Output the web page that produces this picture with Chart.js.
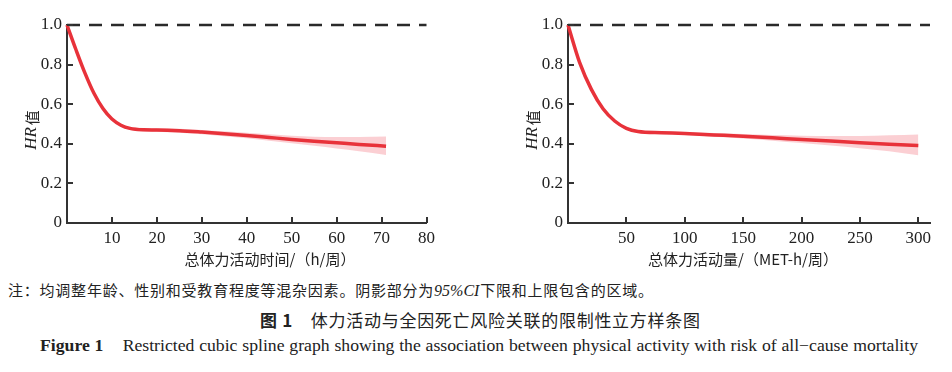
<!DOCTYPE html>
<html>
<head>
<meta charset="utf-8">
<script src="https://cdn.jsdelivr.net/npm/chart.js@4.4.0/dist/chart.umd.min.js"></script>
<style>
  body { margin: 0; background: #fff; width: 952px; height: 372px; overflow: hidden; position: relative; }
  canvas { position: absolute; top: 0; }
  .cap { position: absolute; white-space: nowrap; color: #222; text-align-last: justify; }
  #note { left: 8px; top: 279px; width: 645px; font: 15px "Noto Sans CJK SC"; }
  #note i { font-family: "Liberation Serif"; font-size: 16px; }
  #title { left: 260px; top: 307px; width: 440px; font: 17px "Noto Sans CJK SC"; }
  #title b { font-weight: bold; }
  #fig { left: 40px; top: 335px; width: 878px; font: 17.7px "Liberation Serif"; }
</style>
</head>
<body>
<canvas id="c1" width="440" height="272" style="left:0px"></canvas>
<canvas id="c2" width="440" height="272" style="left:501px"></canvas>
<div class="cap" id="note">注：均调整年龄、性别和受教育程度等混杂因素。阴影部分为<i>95%CI</i>下限和上限包含的区域。</div>
<div class="cap" id="title"><b>图 1</b>　体力活动与全因死亡风险关联的限制性立方样条图</div>
<div class="cap" id="fig"><b>Figure 1</b>&nbsp;&nbsp;&nbsp; Restricted cubic spline graph showing the association between physical activity with risk of all−cause mortality</div>
<script>
// left panel: total activity time (h/week)
const timeX = [0, 2, 4, 6, 8, 10, 12, 14, 17, 20, 25, 30, 35, 40, 45, 50, 55, 60, 65, 71];
const timeHR = [1.0, 0.875, 0.757, 0.655, 0.578, 0.525, 0.494, 0.478, 0.471, 0.470, 0.466, 0.459, 0.451, 0.442, 0.432, 0.422, 0.413, 0.405, 0.397, 0.388];
const timeLow = [1.0, 0.870, 0.751, 0.648, 0.571, 0.518, 0.487, 0.470, 0.462, 0.461, 0.456, 0.448, 0.438, 0.428, 0.416, 0.403, 0.390, 0.376, 0.362, 0.343];
const timeUp = [1.0, 0.880, 0.763, 0.662, 0.585, 0.532, 0.501, 0.486, 0.480, 0.479, 0.476, 0.470, 0.463, 0.456, 0.448, 0.441, 0.436, 0.434, 0.434, 0.437];
const timeTicks = [10, 20, 30, 40, 50, 60, 70, 80];

// right panel: total activity volume (MET-h/week)
const metX = [0, 10, 20, 30, 40, 50, 60, 80, 100, 125, 150, 175, 200, 225, 250, 275, 300];
const metHR = [1.0, 0.81, 0.675, 0.577, 0.515, 0.478, 0.462, 0.456, 0.452, 0.445, 0.438, 0.430, 0.422, 0.414, 0.405, 0.398, 0.391];
const metLow = [1.0, 0.804, 0.668, 0.570, 0.508, 0.471, 0.455, 0.449, 0.445, 0.436, 0.427, 0.416, 0.404, 0.392, 0.378, 0.362, 0.342];
const metUp = [1.0, 0.816, 0.682, 0.584, 0.522, 0.485, 0.469, 0.463, 0.459, 0.454, 0.449, 0.444, 0.441, 0.440, 0.440, 0.443, 0.447];
const metTicks = [50, 100, 150, 200, 250, 300];

const yTicks = [0, 0.2, 0.4, 0.6, 0.8, 1.0];
const refHR = 1.0;

const serif = '"Liberation Serif", "DejaVu Serif", serif';
const cjk = '"Noto Sans CJK SC", sans-serif';

function pts(xs, ys) {
    return xs.map((x, i) => ({ x: x, y: ys[i] }));
}

// inward tick marks + axis titles
const decor = {
    id: 'decor',
    afterDraw(chart, args, opts) {
        const ctx = chart.ctx;
        const xs = chart.scales.x, ys = chart.scales.y;
        const area = chart.chartArea;
        ctx.save();
        ctx.strokeStyle = '#333';
        ctx.lineWidth = 2;
        xs.ticks.forEach(t => {
            const px = Math.round(xs.getPixelForValue(t.value));
            ctx.beginPath();
            ctx.moveTo(px, area.bottom);
            ctx.lineTo(px, area.bottom - 6);
            ctx.stroke();
        });
        ys.ticks.forEach(t => {
            if (t.value === 0) return;
            const py = Math.round(ys.getPixelForValue(t.value));
            ctx.beginPath();
            ctx.moveTo(area.left, py);
            ctx.lineTo(area.left + 6, py);
            ctx.stroke();
        });

        // x title
        ctx.fillStyle = '#222';
        ctx.font = '15px ' + cjk;
        ctx.textAlign = 'center';
        ctx.textBaseline = 'middle';
        ctx.fillText(opts.xTitle, opts.xTitleX, 259);

        // y title: italic HR + 值, rotated
        ctx.translate(area.left - 35, 130);
        ctx.rotate(-Math.PI / 2);
        ctx.font = 'italic 17px ' + serif;
        const w1 = ctx.measureText('HR').width;
        ctx.font = '15px ' + cjk;
        const w2 = ctx.measureText('值').width;
        const total = w1 + 2 + w2;
        ctx.textAlign = 'left';
        ctx.font = 'italic 17px ' + serif;
        ctx.fillText('HR', -total / 2, 0);
        ctx.font = '15px ' + cjk;
        ctx.fillText('值', -total / 2 + w1 + 2, 0);
        ctx.restore();
    }
};

function makeChart(id, xs, hr, low, up, xMax, xStep, xTickList, xTitle, xTitleX) {
    const ctx = document.getElementById(id).getContext('2d');
    return new Chart(ctx, {
        type: 'line',
        data: {
            datasets: [
                {
                    data: pts(xs, hr),
                    borderColor: '#e8323a',
                    borderWidth: 3.5,
                    pointRadius: 0,
                    cubicInterpolationMode: 'monotone',
                    fill: false,
                    clip: false
                },
                {
                    data: [{ x: 0, y: refHR }, { x: xMax, y: refHR }],
                    borderColor: '#2a2a2a',
                    borderWidth: 2.5,
                    borderDash: [13, 9],
                    pointRadius: 0,
                    fill: false,
                    clip: false
                },
                {
                    data: pts(xs, up),
                    borderWidth: 0,
                    borderColor: 'rgba(0,0,0,0)',
                    backgroundColor: 'rgba(244,130,140,0.38)',
                    pointRadius: 0,
                    cubicInterpolationMode: 'monotone',
                    fill: '+1'
                },
                {
                    data: pts(xs, low),
                    borderWidth: 0,
                    borderColor: 'rgba(0,0,0,0)',
                    pointRadius: 0,
                    cubicInterpolationMode: 'monotone',
                    fill: false
                }
            ]
        },
        options: {
            responsive: false,
            animation: false,
            layout: { padding: { top: 25, right: 11, left: 0, bottom: 0 } },
            plugins: {
                legend: { display: false },
                tooltip: { enabled: false },
                decor: { xTitle: xTitle, xTitleX: xTitleX }
            },
            scales: {
                x: {
                    type: 'linear',
                    min: 0,
                    max: xMax,
                    grid: { display: false, drawTicks: false },
                    border: { display: true, color: '#333', width: 2 },
                    ticks: {
                        stepSize: xStep,
                        autoSkip: false,
                        maxRotation: 0,
                        padding: 5,
                        color: '#222',
                        font: { family: serif, size: 17 }
                    },
                    afterBuildTicks: scale => {
                        scale.ticks = xTickList.map(v => ({ value: v }));
                    },
                    afterFit: scale => { scale.height = 49; }
                },
                y: {
                    min: 0,
                    max: 1,
                    grid: { display: false, drawTicks: false },
                    border: { display: true, color: '#333', width: 2 },
                    ticks: {
                        stepSize: 0.2,
                        padding: 5,
                        color: '#222',
                        font: { family: serif, size: 17 },
                        callback: v => v === 0 ? '0' : v.toFixed(1)
                    },
                    afterBuildTicks: scale => {
                        scale.ticks = yTicks.map(v => ({ value: v }));
                    },
                    afterFit: scale => { scale.width = 67; }
                }
            }
        },
        plugins: [decor]
    });
}

makeChart('c1', timeX, timeHR, timeLow, timeUp, 80, 10, timeTicks, '总体力活动时间/（h/周）', 270);
makeChart('c2', metX, metHR, metLow, metUp, 310, 50, metTicks, '总体力活动量/（MET-h/周）', 242);
</script>
</body>
</html>
